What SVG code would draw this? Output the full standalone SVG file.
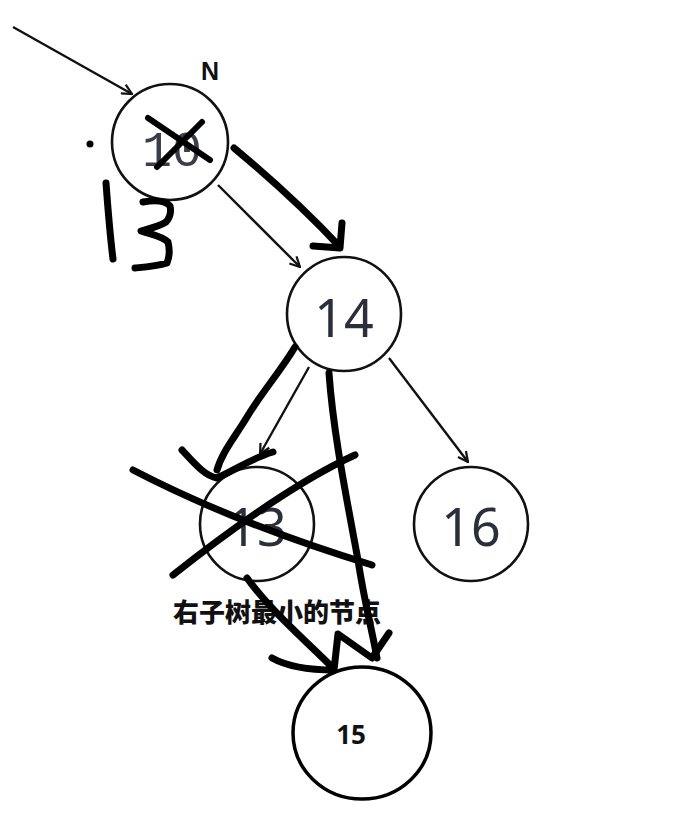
<svg xmlns="http://www.w3.org/2000/svg" width="678" height="836" viewBox="0 0 678 836">
<defs>
<style>
.node{fill:#fff;stroke:#111;stroke-width:2.6}
.num{font-family:"Noto Sans","DejaVu Sans",sans-serif;font-size:52px;fill:#2b2f3a;text-anchor:middle}
.thin{fill:none;stroke:#111;stroke-width:2.4}
.ink{fill:none;stroke:#000;stroke-width:7;stroke-linecap:round;stroke-linejoin:round}
</style>
<marker id="open" viewBox="0 0 12 12" refX="11" refY="6" markerWidth="12" markerHeight="12" markerUnits="userSpaceOnUse" orient="auto">
<path d="M1,1 L11,6 L1,11" fill="none" stroke="#111" stroke-width="2.2"/>
</marker>
</defs>
<rect width="678" height="836" fill="#fff"/>
<g id="connectors">
<path class="thin" d="M13,27 L132,94" marker-end="url(#open)"/>
<path class="thin" d="M218,185 L300,267" marker-end="url(#open)"/>
<path class="thin" d="M309,367 L260,454" marker-end="url(#open)"/>
<path class="thin" d="M389,358 L468,462" marker-end="url(#open)"/>
</g>
<g id="node-10">
<circle class="node" cx="170" cy="142" r="58"/>
<text x="172" y="166" style="font-family:'Liberation Mono','DejaVu Sans Mono',monospace;font-size:50px;fill:#3a3e4a;text-anchor:middle">10</text>
</g>
<g id="node-14">
<circle class="node" cx="344" cy="314" r="57"/>
<text class="num" x="344" y="337">14</text>
</g>
<g id="node-13">
<circle class="node" cx="257" cy="524" r="57"/>
<text class="num" x="257" y="546">13</text>
</g>
<g id="node-16">
<circle class="node" cx="471" cy="524" r="57"/>
<text class="num" x="471" y="546">16</text>
</g>
<g id="node-15">
<ellipse cx="362" cy="733" rx="69" ry="66" fill="#fff" stroke="#000" stroke-width="3.5"/>
<text x="351" y="744" style="font-family:'Noto Sans','DejaVu Sans',sans-serif;font-size:26px;font-weight:bold;fill:#111;text-anchor:middle">15</text>
</g>
<g id="label-N">
<text x="210" y="80" style="font-family:'Liberation Sans',Arial,sans-serif;font-size:25px;font-weight:bold;fill:#111;text-anchor:middle">N</text>
</g>
<g id="label-min">
<text x="277" y="622" style="font-family:'Noto Sans CJK SC','Noto Sans',sans-serif;font-size:26px;font-weight:900;fill:#111;text-anchor:middle">右子树最小的节点</text>
</g>
<g id="ink">
<circle cx="90" cy="144" r="3.5" fill="#000"/>
<path class="ink" style="stroke-width:6" d="M148,118 L210,160 M202,122 L157,167"/>
<path class="ink" d="M106,183 C108,210 110,235 113,259"/>
<path class="ink" d="M143,202 C155,200 165,200 170,206 C172,214 168,220 166,222 C158,227 148,229 141,231 C150,234 162,236 168,242 C170,250 169,258 167,263 C158,266 146,267 135,268"/>
<path class="ink" d="M234,148 C270,178 310,215 340,247 M342,223 L340,248 L313,246"/>
<path class="ink" d="M295,347 C280,372 262,392 247,417 C235,437 222,452 217,470 M182,450 C195,464 205,476 217,478 C235,470 252,458 273,452"/>
<path class="ink" d="M329,373 C333,430 345,490 358,560 C364,600 372,630 377,658"/>
<path class="ink" d="M133,470 C210,510 290,540 372,565"/>
<path class="ink" d="M173,575 C230,530 300,480 355,455"/>
<path class="ink" d="M247,578 C270,610 305,640 334,669 M272,658 C290,668 315,670 334,670 L338,634 L372,658 L389,633"/>
</g>
</svg>
